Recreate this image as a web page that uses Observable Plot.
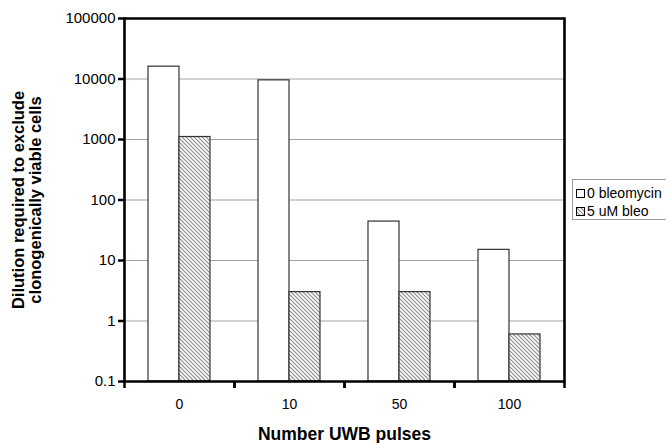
<!DOCTYPE html>
<html>
<head>
<meta charset="utf-8">
<script src="https://cdn.jsdelivr.net/npm/d3@7"></script>
<script src="https://cdn.jsdelivr.net/npm/@observablehq/plot@0.6"></script>
<style>
  html, body { margin: 0; padding: 0; background: #fff; }
  #wrap { position: relative; width: 666px; height: 443px; overflow: hidden; font-family: "Liberation Sans", Arial, sans-serif; }
  #legend { position: absolute; left: 572px; top: 179px; width: 110px; height: 41px; border: 1px solid #9a9a9a; background: #fff; box-sizing: border-box; font-size: 14px; color: #000; }
  #legend .item { position: absolute; left: 3px; display: flex; align-items: center; white-space: nowrap; line-height: 16px; }
  #legend svg { margin-right: 2px; }
  g[aria-label="y-axis label"] text { font-weight: bold; font-size: 16.5px; }
  g[aria-label="fx-axis label"] text { font-weight: bold; font-size: 17.5px; }
</style>
</head>
<body>
<svg width="0" height="0" style="position:absolute">
  <defs>
    <pattern id="hatch" patternUnits="userSpaceOnUse" width="4" height="4">
      <rect width="4" height="4" fill="#ffffff"></rect>
      <path d="M0,0 L4,4 M-1,3 L1,5 M3,-1 L5,1" stroke="#8c8c8c" stroke-width="1.15"></path>
    </pattern>
  </defs>
</svg>
<div id="wrap"></div>
<script>
const groups = ["0", "10", "50", "100"];
const series = ["0 bleomycin", "5 uM bleo"];
const valuesNoBleo = [16000, 9500, 44, 15];
const valuesBleo = [1100, 3, 3, 0.6];
const yTicks = [0.1, 1, 10, 100, 1000, 10000, 100000];
const yBase = 0.1;
const xLabel = "Number UWB pulses";
const yLabel = "Dilution required to exclude\nclonogenically viable cells";
const seriesFills = ["#ffffff", "url(#hatch)"];

const data = groups.flatMap((g, i) => [
  {group: g, series: series[0], value: valuesNoBleo[i]},
  {group: g, series: series[1], value: valuesBleo[i]}
]);

const tickMark = {draw(ctx) { ctx.moveTo(0, 0); ctx.lineTo(0, 6.5); }};

const chart = Plot.plot({
  width: 666,
  height: 443,
  marginLeft: 123,
  marginRight: 102,
  marginTop: 18,
  marginBottom: 62,
  style: {fontFamily: "'Liberation Sans', Arial, sans-serif", fontSize: "14px", color: "#000", background: "#fff"},
  fx: {domain: groups, padding: 0},
  x: {domain: series, paddingInner: 0, paddingOuter: 0.76, axis: null},
  y: {type: "log", domain: [yTicks[0], yTicks[yTicks.length - 1]]},
  color: {domain: series, range: seriesFills},
  marks: [
    Plot.gridY(yTicks, {stroke: "#a3a3a3", strokeOpacity: 1, strokeWidth: 1.2}),
    Plot.barY(data, {fx: "group", x: "series", y1: () => yBase, y2: "value", fill: "series", stroke: "#333", strokeWidth: 1.2}),
    Plot.ruleY([yTicks[0], yTicks[yTicks.length - 1]], {stroke: "#000", strokeWidth: 2.6}),
    Plot.frame({anchor: "left", facetAnchor: "left", stroke: "#000", strokeWidth: 2.6}),
    Plot.frame({anchor: "right", facetAnchor: "right", stroke: "#000", strokeWidth: 2.6}),
    Plot.dot([0], {frameAnchor: "bottom-left", symbol: tickMark, stroke: "#000", fill: "none", strokeWidth: 2.5}),
    Plot.dot([0], {frameAnchor: "bottom-right", symbol: tickMark, stroke: "#000", fill: "none", strokeWidth: 2.5}),
    Plot.axisY({ticks: yTicks, tickFormat: d => String(d), tickSize: 6, tickPadding: 3, strokeWidth: 2.5, fontSize: 15, label: yLabel, labelArrow: "none", labelAnchor: "center", labelOffset: 112}),
    Plot.axisFx({anchor: "bottom", tickSize: 0, tickPadding: 18, label: xLabel, labelArrow: "none", labelAnchor: "center", labelOffset: 58})
  ]
});
document.getElementById("wrap").appendChild(chart);

// legend
const legend = document.createElement("div");
legend.id = "legend";
series.forEach((s, i) => {
  const item = document.createElement("div");
  item.className = "item";
  item.style.top = (i === 0 ? 5 : 23) + "px";
  item.innerHTML = `<svg width="9" height="9"><rect x="0.5" y="0.5" width="8" height="8" fill="${seriesFills[i]}" stroke="#000" stroke-width="1"></rect></svg><span>${s}</span>`;
  legend.appendChild(item);
});
document.getElementById("wrap").appendChild(legend);
</script>
</body>
</html>
